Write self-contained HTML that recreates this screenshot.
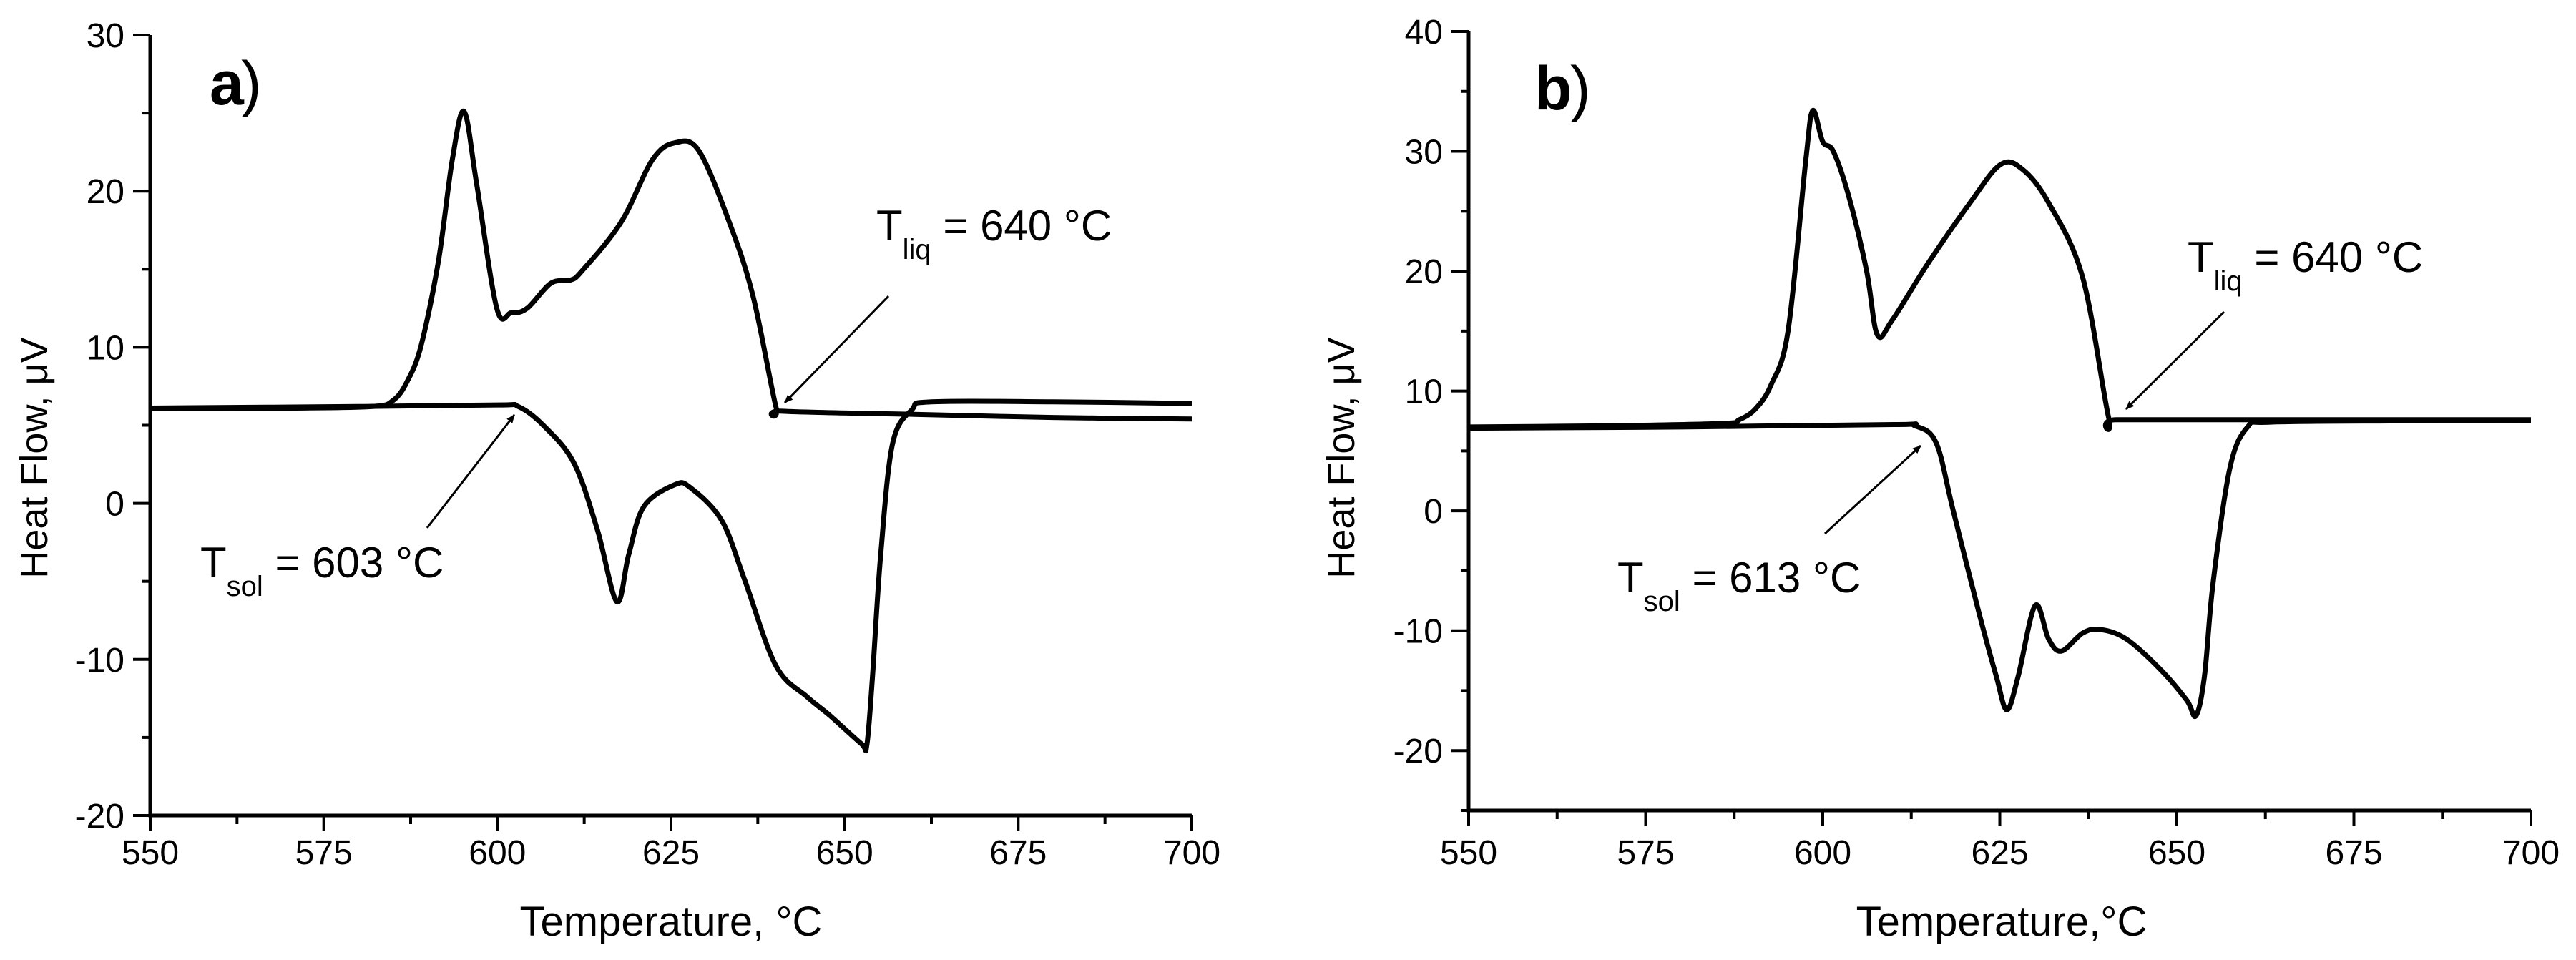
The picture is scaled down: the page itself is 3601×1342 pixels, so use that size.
<!DOCTYPE html>
<html><head><meta charset="utf-8"><style>
html,body{margin:0;padding:0;background:#fff;}
svg{display:block;font-family:"Liberation Sans",Arial,sans-serif;}
</style></head><body>
<svg id="fig" width="3601" height="1342" viewBox="0 0 3601 1342" xmlns="http://www.w3.org/2000/svg">
<defs><marker id="ah" markerWidth="12" markerHeight="10" refX="11" refY="5" orient="auto" markerUnits="userSpaceOnUse"><path d="M0,0 L12,5 L0,10 z" fill="#000"/></marker></defs>
<g id="pa"></g>
<g id="pb"></g>
</svg>
<script>
// Panel a data
const aHeatT = [550,570,582,585,587,589,591.5,593.5,595.2,597,599.9,602,604.3,607.7,610.5,612.2,617.8,622.3,625.6,629,633.4,636.8,640.1,641,660,680,700];
const aHeatV = [6.1,6.1,6.2,6.6,7.8,10.1,15.5,22.0,25.1,20.5,12.5,12.2,12.5,14.1,14.3,14.9,18.0,22.0,23.1,22.6,18.0,13.3,6.2,5.9,5.7,5.5,5.4];
const aCoolT = [550,580,600,603,606.6,611,614.4,617.2,618.9,621.1,625.6,627.8,632.3,635.6,640.1,644.6,647.9,652.4,653.2,654,655.2,656.9,659.7,662.5,680,700];
const aCoolV = [6.1,6.2,6.3,6.2,5.0,2.6,-1.7,-6.3,-3.3,-0.2,1.2,1.0,-1.1,-4.9,-10.4,-12.4,-13.6,-15.4,-15.5,-11.2,-3.3,3.8,6.0,6.5,6.5,6.4];
// Panel b data
const bHeatT = [550,570,586,588.2,590.5,592.7,595.1,597.6,598.6,600,601.5,603.7,606.2,607.7,609.8,614.7,620.8,625.1,628.2,631.9,636.7,640.4,641.5,660,700];
const bHeatV = [7.0,7.1,7.3,7.6,8.5,10.5,15.0,29.2,33.4,30.8,30.0,26.2,20.0,14.7,15.9,20.5,25.7,28.9,28.5,25.7,19.5,7.7,7.6,7.6,7.6];
const bCoolT = [550,580,610,613,616,618.4,622.1,624.5,626,627.6,630,631.9,633.7,636.7,639.2,642.9,647.8,651.4,652.7,653.9,655.1,657.5,660,663,680,700];
const bCoolV = [6.9,7.0,7.2,7.1,5.7,0.06,-8.6,-13.8,-16.6,-13.8,-7.9,-10.7,-11.7,-10.2,-9.9,-10.7,-13.3,-15.8,-17.1,-13.8,-6.1,3.6,7.0,7.4,7.5,7.5];
const xTicks = [550,575,600,625,650,675,700];
const aYTicks = [-20,-10,0,10,20,30];
const bYTicks = [-20,-10,0,10,20,30,40];

const NS='http://www.w3.org/2000/svg';
function mk(parent,tag,attrs,text){const e=document.createElementNS(NS,tag);for(const k in attrs)e.setAttribute(k,attrs[k]);if(text!==undefined)e.textContent=text;parent.appendChild(e);return e;}
function smooth(pts){let d='M'+pts[0][0].toFixed(1)+','+pts[0][1].toFixed(1);
 for(let i=0;i<pts.length-1;i++){const p0=pts[Math.max(0,i-1)],p1=pts[i],p2=pts[i+1],p3=pts[Math.min(pts.length-1,i+2)];
  const c1=[p1[0]+(p2[0]-p0[0])/6,p1[1]+(p2[1]-p0[1])/6],c2=[p2[0]-(p3[0]-p1[0])/6,p2[1]-(p3[1]-p1[1])/6];
  d+=' C'+c1[0].toFixed(1)+','+c1[1].toFixed(1)+' '+c2[0].toFixed(1)+','+c2[1].toFixed(1)+' '+p2[0].toFixed(1)+','+p2[1].toFixed(1);}
 return d;}
function panel(g,cfg){
 const X=t=>cfg.x0+(t-550)/150*(cfg.x1-cfg.x0);
 const Y=v=>cfg.y0+(cfg.ymax-v)/(cfg.ymax-cfg.ymin)*(cfg.y1-cfg.y0);
 const ax=mk(g,'path',{d:`M${cfg.x0},${cfg.y0} V${cfg.y1} H${cfg.x1}`,fill:'none',stroke:'#000','stroke-width':5});
 
 
 for(let t=550;t<=700;t+=12.5){const major=(t%25===0);
  const tk=mk(g,'line',{x1:X(t),x2:X(t),y1:cfg.y1,y2:cfg.y1+(major?22:12),stroke:'#000','stroke-width':4});
  
  }
 xTicks.forEach(t=>{const l=mk(g,'text',{x:X(t),y:1208,'font-size':48,'text-anchor':'middle'},String(t));
  
  });
 for(let v=cfg.ymin;v<=cfg.ymax;v+=5){const major=(v%10===0);
  const tk=mk(g,'line',{x1:cfg.x0,x2:cfg.x0-(major?24:11),y1:Y(v),y2:Y(v),stroke:'#000','stroke-width':4});
  
  }
 cfg.yt.forEach(v=>{const l=mk(g,'text',{x:cfg.x0-36,y:Y(v)+17,'font-size':48,'text-anchor':'end'},String(v));
  
  });
 const xt=mk(g,'text',{x:cfg.xtx,y:1308,'font-size':58,'text-anchor':'middle'},cfg.xtitle);
 
 
 const yt=mk(g,'text',{x:0,y:0,'font-size':54,'text-anchor':'middle',transform:`translate(${cfg.ytx},${cfg.yty}) rotate(-90)`},'Heat Flow, μV');
 
 
 cfg.series.forEach((s,i)=>{const pts=s[0].map((t,j)=>[X(t),Y(s[1][j])]);
  const p=mk(g,'path',{d:smooth(pts),fill:'none',stroke:'#000','stroke-width':7,'stroke-linejoin':'round'});
  
  });
 const lb=mk(g,'text',{x:cfg.lbx,y:cfg.lby,'font-size':86,'font-weight':'bold'},cfg.label);
 
 
 const pr=mk(g,'text',{x:cfg.lbx+cfg.parDx,y:cfg.lby,'font-size':86},')');
 
 
 cfg.ann.forEach(a=>{
  const t=mk(g,'text',{x:a.x,y:a.y,'font-size':60});
  
  
  mk(t,'tspan',{},'T');
  mk(t,'tspan',{dy:26,'font-size':40},a.sub);
  mk(t,'tspan',{dy:-26},' = '+a.val+' °C');
  const ar=mk(g,'line',{x1:a.ax1,y1:a.ay1,x2:a.ax2,y2:a.ay2,stroke:'#000','stroke-width':3,'marker-end':'url(#ah)'});
  
  
 });
}
panel(document.getElementById('pa'),{x0:210,x1:1666,y0:49,y1:1140,ymin:-20,ymax:30,yt:aYTicks,
 xtx:938,xtitle:'Temperature, °C',ytx:66,yty:640,label:'a',lbx:293,lby:146,parDx:44,
 series:[[aHeatT,aHeatV],[aCoolT,aCoolV]],
 ann:[{name:'t-liq-annotation',x:1225,y:336,sub:'liq',val:'640',ax1:1242,ay1:414,ax2:1097,ay2:563},
      {name:'t-sol-annotation',x:280,y:807,sub:'sol',val:'603',ax1:597,ay1:738,ax2:719,ay2:580}]});
panel(document.getElementById('pb'),{x0:2053,x1:3538,y0:44,y1:1133,ymin:-25,ymax:40,yt:bYTicks,
 xtx:2798,xtitle:'Temperature,°C',ytx:1893,yty:640,label:'b',lbx:2145,lby:153,parDx:50,
 series:[[bHeatT,bHeatV],[bCoolT,bCoolV]],
 ann:[{name:'t-liq-annotation',x:3058,y:380,sub:'liq',val:'640',ax1:3109,ay1:436,ax2:2972,ay2:572},
      {name:'t-sol-annotation',x:2261,y:828,sub:'sol',val:'613',ax1:2551,ay1:746,ax2:2685,ay2:623}]});
</script>
</body></html>
